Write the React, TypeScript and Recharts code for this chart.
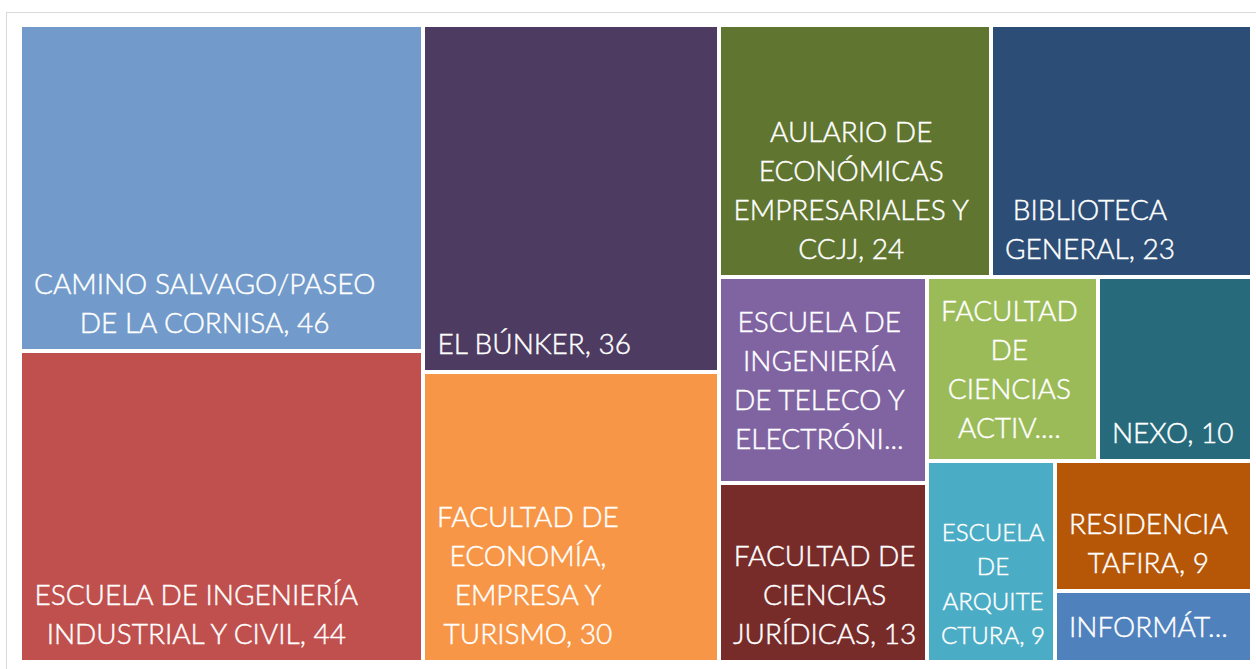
import React from 'react';
import { Treemap } from 'recharts';

const names = [
  'CAMINO SALVAGO/PASEO DE LA CORNISA',
  'ESCUELA DE INGENIERÍA INDUSTRIAL Y CIVIL',
  'EL BÚNKER',
  'FACULTAD DE ECONOMÍA, EMPRESA Y TURISMO',
  'AULARIO DE ECONÓMICAS EMPRESARIALES Y CCJJ',
  'BIBLIOTECA GENERAL',
  'ESCUELA DE INGENIERÍA DE TELECO Y ELECTRÓNICA',
  'FACULTAD DE CIENCIAS JURÍDICAS',
  'FACULTAD DE CIENCIAS ACTIV. FÍSICA Y DEPORTE',
  'NEXO',
  'ESCUELA DE ARQUITECTURA',
  'RESIDENCIA TAFIRA',
  'INFORMÁTICA',
];

const values = [46, 44, 36, 30, 24, 23, 15, 13, 11, 10, 9, 9, 5];

const colors = [
  '#729ACA', '#C0504D', '#4D3B62', '#F79646', '#5F7530', '#2C4D75', '#8064A2',
  '#772C2A', '#9BBB59', '#276A7C', '#4BACC6', '#B65708', '#4F81BD',
];

// label lines as Excel wrapped / cut them
const labelLines = [
  ['CAMINO SALVAGO/PASEO', 'DE LA CORNISA, 46'],
  ['ESCUELA DE INGENIERÍA', 'INDUSTRIAL Y CIVIL, 44'],
  ['EL BÚNKER, 36'],
  ['FACULTAD DE', 'ECONOMÍA,', 'EMPRESA Y', 'TURISMO, 30'],
  ['AULARIO DE', 'ECONÓMICAS', 'EMPRESARIALES Y', 'CCJJ, 24'],
  ['BIBLIOTECA', 'GENERAL, 23'],
  ['ESCUELA DE', 'INGENIERÍA', 'DE TELECO Y', 'ELECTRÓNI...'],
  ['FACULTAD DE', 'CIENCIAS', 'JURÍDICAS, 13'],
  ['FACULTAD', 'DE', 'CIENCIAS', 'ACTIV....'],
  ['NEXO, 10'],
  ['ESCUELA', 'DE', 'ARQUITE', 'CTURA, 9'],
  ['RESIDENCIA', 'TAFIRA, 9'],
  ['INFORMÁT...'],
];

const data = names.map((name, i) => ({
  name,
  value: values[i],
  color: colors[i],
  lines: labelLines[i],
}));

const FONT = 'Lato, "Open Sans", sans-serif';
const WEIGHT = 300;
const BASE_SIZE = 28;
const LINE_H = 39;

let ctx: CanvasRenderingContext2D | null = null;
const measure = (text: string, size: number) => {
  if (!ctx) ctx = document.createElement('canvas').getContext('2d');
  if (!ctx) return text.length * size * 0.6;
  ctx.font = `${WEIGHT} ${size}px ${FONT}`;
  return ctx.measureText(text).width;
};

const Tile = (props: any) => {
  const { depth, x, y, width, height, color, lines } = props;
  if (depth !== 1 || !lines) return null;
  const maxW = Math.max(...lines.map((l: string) => measure(l, BASE_SIZE)));
  const k = Math.min(1, (width - 24) / maxW);
  const size = BASE_SIZE * k;
  const lh = LINE_H * Math.max(k, 0.88);
  const blockW = maxW * k;
  const cap = size * 0.72;
  const truncated = lines[lines.length - 1].endsWith('...');
  const blockH = (lines.length - 1) * lh + cap;
  const lastBase = truncated ? y + (height + blockH) / 2 : y + height - 18;
  const cx = x + 14 + blockW / 2;
  return (
    <g>
      <rect x={x} y={y} width={width} height={height} fill={color} stroke="#fff" strokeWidth={4} />
      <text
        textAnchor="middle"
        fill="#fff"
        stroke="#fff"
        strokeWidth={0.45}
        fontFamily={FONT}
        fontWeight={WEIGHT}
        fontSize={size}
      >
        {lines.map((l: string, i: number) => (
          <tspan key={i} x={cx} y={lastBase - (lines.length - 1 - i) * lh}>
            {l}
          </tspan>
        ))}
      </text>
    </g>
  );
};

export default function App() {
  return (
    <div style={{ position: 'absolute', left: 0, top: 0, width: 1256, height: 669, overflow: 'hidden', background: '#fff' }}>
      <div
        style={{
          position: 'absolute',
          left: 6,
          top: 12,
          width: 1300,
          height: 700,
          border: '1px solid #D9D9D9',
        }}
      />
      <div style={{ position: 'absolute', left: 20, top: 25 }}>
        <Treemap
          width={1232}
          height={637}
          data={data}
          dataKey="value"
          nameKey="name"
          aspectRatio={1}
          stroke="#fff"
          isAnimationActive={false}
          content={(p: any) => <Tile {...p} />}
        />
      </div>
    </div>
  );
}
